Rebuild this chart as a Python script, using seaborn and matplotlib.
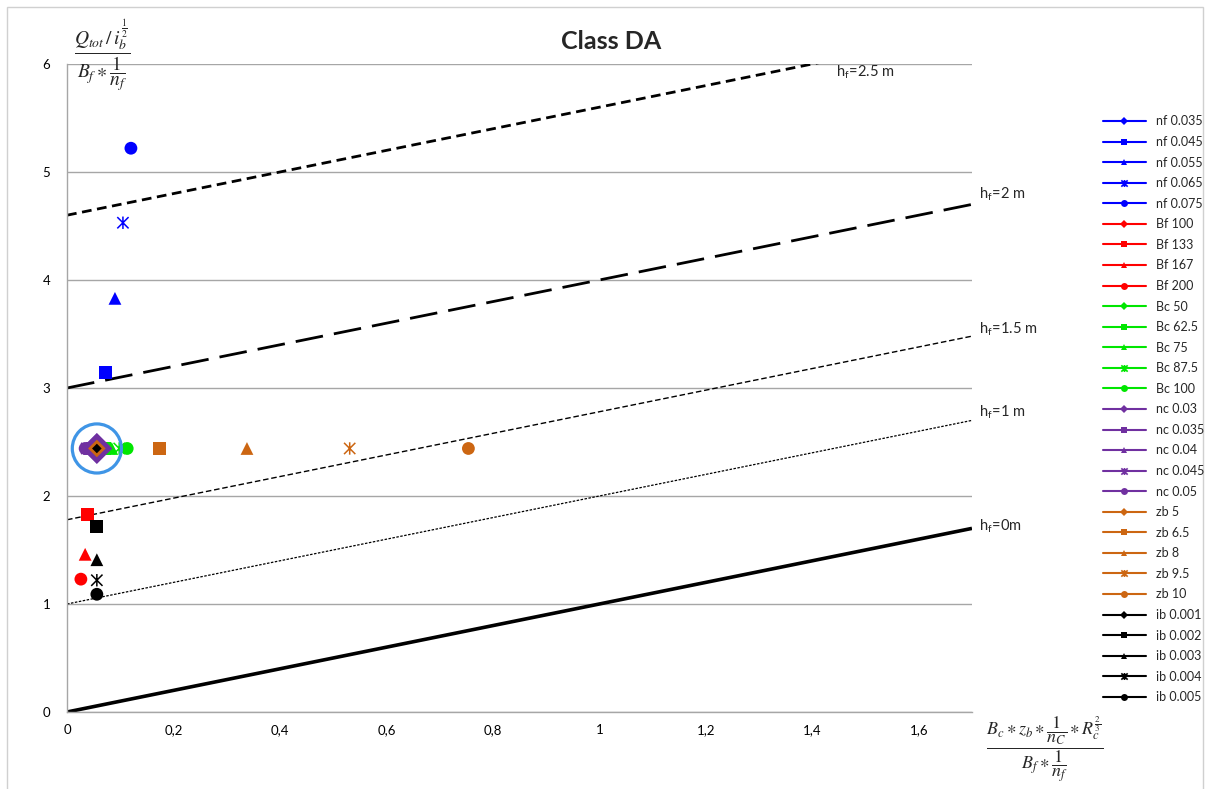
import numpy as np
import pandas as pd
import seaborn as sns
import matplotlib
matplotlib.use("Agg")
import matplotlib.pyplot as plt
from matplotlib.path import Path
from matplotlib.lines import Line2D
from matplotlib.patches import Rectangle
from matplotlib.ticker import FuncFormatter

# ---- data -------------------------------------------------------------
# reference lines: Q-ratio = intercept + x for each floodplain depth h_f
hf_labels = ["0", "1", "1.5", "2", "2.5"]
hf_intercepts = [0.0, 1.0, 1.78, 3.0, 4.6]
x_span = [0.0, 1.7]

# parameter sweeps (x = channel conveyance ratio, y = discharge ratio)
nf_labels = ["nf 0.035", "nf 0.045", "nf 0.055", "nf 0.065", "nf 0.075"]
nf_x = [0.056, 0.072, 0.090, 0.105, 0.120]
nf_y = [2.44, 3.14, 3.83, 4.53, 5.22]

bf_labels = ["Bf 100", "Bf 133", "Bf 167", "Bf 200"]
bf_x = [0.056, 0.039, 0.034, 0.026]
bf_y = [2.44, 1.83, 1.46, 1.23]

bc_labels = ["Bc 50", "Bc 62.5", "Bc 75", "Bc 87.5", "Bc 100"]
bc_x = [0.056, 0.070, 0.084, 0.098, 0.113]
bc_y = [2.44, 2.44, 2.44, 2.44, 2.44]

nc_labels = ["nc 0.03", "nc 0.035", "nc 0.04", "nc 0.045", "nc 0.05"]
nc_x = [0.056, 0.048, 0.042, 0.037, 0.034]
nc_y = [2.44, 2.44, 2.44, 2.44, 2.44]

zb_labels = ["zb 5", "zb 6.5", "zb 8", "zb 9.5", "zb 10"]
zb_x = [0.056, 0.174, 0.338, 0.531, 0.754]
zb_y = [2.44, 2.44, 2.44, 2.44, 2.44]

ib_labels = ["ib 0.001", "ib 0.002", "ib 0.003", "ib 0.004", "ib 0.005"]
ib_x = [0.056, 0.056, 0.056, 0.056, 0.056]
ib_y = [2.44, 1.72, 1.41, 1.22, 1.09]

# reference case (all base parameters)
ref_x = [0.056]
ref_y = [2.44]

# ---- styling ----------------------------------------------------------
sns.set_theme(style="white")
plt.rcParams["font.family"] = ["Lato", "DejaVu Sans"]
plt.rcParams["mathtext.fontset"] = "stix"

# asterisk marker: an X crossed by a vertical bar
star = Path([(-1, -1), (1, 1), (-1, 1), (1, -1), (0, -1.1), (0, 1.1)],
            [Path.MOVETO, Path.LINETO, Path.MOVETO, Path.LINETO,
             Path.MOVETO, Path.LINETO])
five = ["D", "s", "^", star, "o"]
four = ["D", "s", "^", "o"]

groups = [
    (nf_labels, nf_x, nf_y, "#0000ff", 230, five),
    (bf_labels, bf_x, bf_y, "#ff0000", 40, four),
    (bc_labels, bc_x, bc_y, "#00e600", 40, five),
    (nc_labels, nc_x, nc_y, "#7030a0", 250, five),
    (zb_labels, zb_x, zb_y, "#cc6612", 80, five),
    (ib_labels, ib_x, ib_y, "#000000", 24, five),
]

fig = plt.figure(figsize=(12.08, 7.89), dpi=100)
ax = fig.add_axes([0.0555, 0.0976, 0.7491, 0.8213])

# depth lines
line_styles = [
    dict(lw=2.6, dashes=None),
    dict(lw=0.9, dashes=(2, 1.2)),
    dict(lw=1.0, dashes=(4, 2)),
    dict(lw=2.0, dashes=(10, 4)),
    dict(lw=2.0, dashes=(3.5, 2)),
]
for lab, c0, st in zip(hf_labels, hf_intercepts, line_styles):
    df = pd.DataFrame({"x": x_span, "y": [c0 + v for v in x_span]})
    sns.lineplot(data=df, x="x", y="y", ax=ax, color="black", lw=st["lw"])
    ln = ax.get_lines()[-1]
    if st["dashes"] is not None:
        ln.set_dashes(st["dashes"])
    ln.set_solid_capstyle("butt")

sizes = {"o": 85, "s": 90, "^": 85}

# scattered sweeps
for labels, xs, ys, color, base_s, mks in groups:
    for i, (lab, xv, yv) in enumerate(zip(labels, xs, ys)):
        m = mks[i]
        s = base_s if i == 0 else sizes.get(m, 80) if isinstance(m, str) else 80
        if m is star:
            ax.scatter([xv], [yv], marker=m, s=s, facecolors="none",
                       edgecolors=color, linewidths=1.1, zorder=4)
        else:
            sns.scatterplot(x=[xv], y=[yv], marker=m, s=s, color=color,
                            edgecolor="none", linewidth=0, ax=ax, zorder=4,
                            legend=False)

# ring around the reference case
ax.scatter(ref_x, ref_y, marker="o", s=1250, facecolors="none",
           edgecolors="#3f95e6", linewidths=2.3, zorder=5)

ax.set_xlim(0, 1.7)
ax.set_ylim(0, 6)
ax.set_xticks([0, 0.2, 0.4, 0.6, 0.8, 1.0, 1.2, 1.4, 1.6])
ax.set_yticks([0, 1, 2, 3, 4, 5, 6])
fmt = FuncFormatter(lambda v, p: ("%g" % v).replace(".", ","))
ax.xaxis.set_major_formatter(fmt)
ax.tick_params(axis="both", labelsize=9.5, colors="black", length=0)
ax.tick_params(axis="y", pad=12)
ax.tick_params(axis="x", pad=9)
ax.set_xlabel("")
ax.set_ylabel("")
ax.yaxis.grid(True, color="#a6a6a6", lw=1.0)
ax.xaxis.grid(False)
for side in ["top", "right"]:
    ax.spines[side].set_visible(False)
for side in ["left", "bottom"]:
    ax.spines[side].set_color("#a6a6a6")
    ax.spines[side].set_linewidth(1.0)

# depth labels
ax.text(1.445, 5.92, r"h$_\mathregular{f}$=2.5 m", fontsize=10.5, va="center",
        ha="left")
label_pos = [(1.713, 1.72, "0"), (1.713, 2.77, "1"), (1.713, 3.54, "1.5"),
             (1.713, 4.79, "2")]
for xv, yv, t in label_pos:
    sp = "" if t == "0" else " "
    ax.text(xv, yv, r"h$_\mathregular{f}$=" + t + sp + "m", fontsize=10.5,
            va="center", ha="left", clip_on=False)

# titles and axis expressions
fig.text(0.506, 0.947, "Class DA", fontsize=18, fontweight="bold",
         ha="center", va="center")
fig.text(0.085, 0.93,
         r"$\dfrac{Q_{tot}\,/\,i_b^{\frac{1}{2}}}{B_f \ast \dfrac{1}{n_f}}$",
         fontsize=14, ha="center", va="center")
fig.text(0.865, 0.05,
         r"$\dfrac{B_c \ast z_b \ast \dfrac{1}{n_C} \ast R_c^{\frac{2}{3}}}{B_f \ast \dfrac{1}{n_f}}$",
         fontsize=13, ha="center", va="center")

# legend
handles = []
for labels, xs, ys, color, base_s, mks in groups:
    for i, lab in enumerate(labels):
        m = mks[i]
        if m is star:
            h = Line2D([0], [0], color=color, lw=1.5, marker=m, markersize=5,
                       markerfacecolor="none", markeredgecolor=color,
                       markeredgewidth=1.2, label=lab)
        else:
            h = Line2D([0], [0], color=color, lw=1.5, marker=m,
                       markersize=5 if m != "D" else 3.8,
                       markeredgewidth=0, label=lab)
        handles.append(h)
fig.legend(handles=handles, loc="upper left", bbox_to_anchor=(0.909, 0.86),
           frameon=False, fontsize=9, handlelength=3.4, handletextpad=0.8,
           labelspacing=0.685, borderaxespad=0)

# thin border round the figure
fig.patches.append(Rectangle((0.006, -0.01), 0.99, 1.001,
                             transform=fig.transFigure, fill=False,
                             edgecolor="#d0d0d0", lw=1.0))

fig.savefig("out.png", dpi=100)
